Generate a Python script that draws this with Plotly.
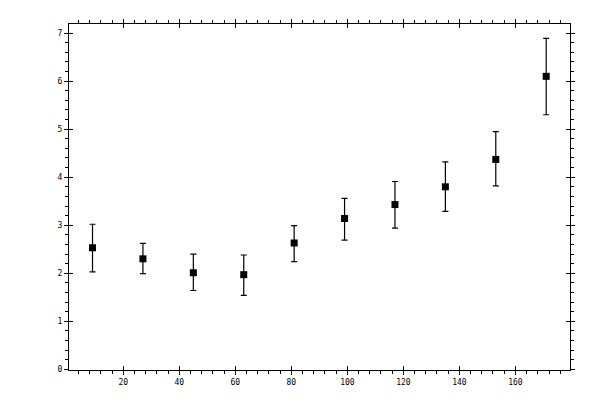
import plotly.graph_objs as go

# measured values
x_vals = [9, 27, 45, 63, 81, 99, 117, 135, 153, 171]
y_vals = [2.53, 2.30, 2.01, 1.97, 2.63, 3.14, 3.43, 3.80, 4.37, 6.10]
err_plus = [0.49, 0.32, 0.39, 0.41, 0.36, 0.42, 0.48, 0.52, 0.58, 0.79]
err_minus = [0.50, 0.31, 0.37, 0.43, 0.39, 0.45, 0.49, 0.51, 0.55, 0.80]

x_ticks = [20, 40, 60, 80, 100, 120, 140, 160]
y_ticks = [0, 1, 2, 3, 4, 5, 6, 7]

x_range = [0.6, 179.5]
y_range = [-0.015, 7.19]

tick_font = dict(family='DejaVu Sans Mono', size=8, color='black')

trace = go.Scatter(
    x=x_vals,
    y=y_vals,
    mode='markers',
    marker=dict(symbol='square', size=7, color='black'),
    error_y=dict(type='data', symmetric=False, array=err_plus,
                 arrayminus=err_minus, color='black', thickness=1.2, width=3),
    showlegend=False,
    hoverinfo='x+y'
)

# invisible trace so the overlay axes (inner half of major ticks) get drawn
ghost = go.Scatter(x=x_vals, y=y_vals, xaxis='x2', yaxis='y2',
                   mode='markers', marker=dict(opacity=0),
                   showlegend=False, hoverinfo='skip')

def axis_style(tickvals, rng, minor_step):
    return dict(
        range=rng,
        tickmode='array',
        tickvals=tickvals,
        ticks='outside',
        ticklen=4,
        tickwidth=1,
        tickcolor='black',
        showline=True,
        linecolor='black',
        linewidth=1,
        mirror='allticks',
        showgrid=False,
        zeroline=False,
        tickfont=tick_font,
        minor=dict(dtick=minor_step, tick0=0, ticks='outside', ticklen=3,
                   tickcolor='black', tickwidth=1, showgrid=False),
    )

def inner_ticks(tickvals, rng, over):
    return dict(
        range=rng,
        overlaying=over,
        tickmode='array',
        tickvals=tickvals,
        ticks='inside',
        ticklen=4,
        tickwidth=1,
        tickcolor='black',
        showticklabels=False,
        showline=False,
        mirror='allticks',
        showgrid=False,
        zeroline=False,
    )

# page body has an 8px margin, so margins are shifted to compensate
layout = go.Layout(
    width=600,
    height=400,
    margin=dict(l=61, r=38, t=11, b=38),
    paper_bgcolor='white',
    plot_bgcolor='white',
    xaxis=axis_style(x_ticks, x_range, 4),
    yaxis=axis_style(y_ticks, y_range, 0.2),
    xaxis2=inner_ticks(x_ticks, x_range, 'x'),
    yaxis2=inner_ticks(y_ticks, y_range, 'y'),
)

fig = go.Figure(data=[trace, ghost], layout=layout)
fig.write_html("out.html")
